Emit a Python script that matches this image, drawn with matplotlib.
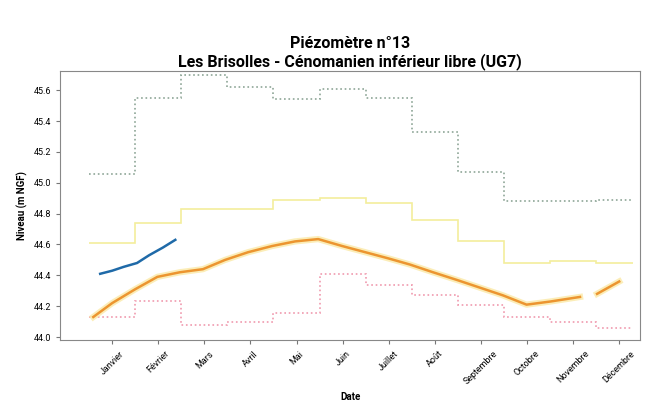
import numpy as np
import matplotlib.pyplot as plt

plt.rcParams['font.family'] = ['Roboto', 'DejaVu Sans']

mois = ["Janvier", "Février", "Mars", "Avril", "Mai", "Juin", "Juillet",
        "Août", "Septembre", "Octobre", "Novembre", "Décembre"]
num_mois = np.arange(1, 13)

# statistiques mensuelles (m NGF)
niv_max = [45.06, 45.55, 45.70, 45.62, 45.54, 45.61, 45.55, 45.33, 45.07, 44.88, 44.88, 44.89]
niv_haut = [44.61, 44.74, 44.83, 44.83, 44.89, 44.90, 44.87, 44.76, 44.62, 44.48, 44.49, 44.48]
niv_min = [44.13, 44.235, 44.08, 44.10, 44.155, 44.41, 44.34, 44.27, 44.21, 44.13, 44.095, 44.06]

# niveau moyen (position en mois)
moy_x = [0.59, 1.0, 1.5, 1.98, 2.47, 2.97, 3.45, 3.95, 4.47, 4.97, 5.47, 5.99,
         6.49, 6.99, 7.46, 7.96, 8.48, 8.98, 9.48, 9.99, 10.5, 11.15, 11.52, 12.0]
moy_y = [44.13, 44.22, 44.31, 44.39, 44.42, 44.44, 44.50, 44.55, 44.59, 44.62, 44.635, 44.59,
         44.55, 44.51, 44.47, 44.42, 44.37, 44.32, 44.27, 44.21, 44.23, 44.26, np.nan, np.nan]
moy_y2 = [np.nan] * 22 + [44.28, 44.36]

# annee en cours
cour_x = [0.74, 1.0, 1.25, 1.54, 1.8, 2.1, 2.37]
cour_y = [44.41, 44.43, 44.455, 44.48, 44.53, 44.58, 44.63]

fig = plt.figure(figsize=(6.53, 4.03), dpi=100)
ax = fig.add_axes([0.092, 0.156, 0.888, 0.668])

bords = np.append(num_mois - 0.5, 12.3)
ax.stairs(niv_max, bords, color='#8ea697', lw=1.2, ls=':', baseline=None)
ax.stairs(niv_haut, bords, color='#f3ee9c', lw=1.2, ls='-', baseline=None)
ax.stairs(niv_min, bords, color='#f09aae', lw=1.2, ls=':', baseline=None)

ax.plot(moy_x, moy_y, color='#fbe9a6', lw=4.5, alpha=0.8)
ax.plot(moy_x, moy_y, color='#ec9530', lw=1.8)
ax.plot(moy_x, moy_y2, color='#fbe9a6', lw=4.5, alpha=0.8)
ax.plot(moy_x, moy_y2, color='#ec9530', lw=1.8)
ax.plot(cour_x, cour_y, color='#1f6aa8', lw=1.8)

ax.set_xlim(-0.13, 12.45)
ax.set_ylim(43.98, 45.725)
ax.set_yticks(np.arange(44.0, 45.61, 0.2))
ax.set_yticklabels(["%.1f" % v for v in np.arange(44.0, 45.61, 0.2)], fontsize=6.5)
ax.set_xticks(num_mois)
ax.set_xticklabels(mois, rotation=45, fontsize=6.5)
ax.tick_params(length=3, color='#777777')
for s in ax.spines.values():
    s.set_color('#888888')

ax.set_xlabel('Date', fontsize=7, fontweight='bold')
ax.set_ylabel('Niveau (m NGF)', fontsize=7, fontweight='bold')
ax.set_title("Piézomètre n°13\nLes Brisolles - Cénomanien inférieur libre (UG7)",
             fontsize=11.5, fontweight='bold', pad=3)

fig.savefig('out.png', dpi=100)
